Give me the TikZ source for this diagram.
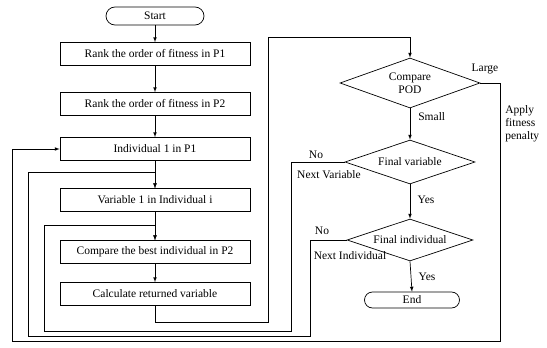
\documentclass[tikz,border=0pt]{standalone}
\usepackage{fontspec}
\setmainfont{Liberation Serif}
\usetikzlibrary{shapes.geometric,shapes.misc}

\begin{document}
\begin{tikzpicture}[x=1pt, y=-1pt, line width=0.7pt,
  stepbox/.style = {draw, minimum width=190pt, minimum height=23pt, inner sep=0pt,
                    font=\fontsize{11.5}{13}\selectfont},
  term/.style    = {draw, rounded rectangle, minimum width=98pt, minimum height=18pt,
                    inner sep=0pt, font=\fontsize{11.5}{13}\selectfont},
  test/.style    = {draw, diamond, aspect=3, inner sep=0pt, align=center,
                    font=\fontsize{11.5}{13}\selectfont},
  flw/.style     = {-latex},
  lbl/.style     = {font=\fontsize{11.5}{13}\selectfont, inner sep=1pt}
]
\useasboundingbox (0,0) rectangle (547,348);

% --- left column: steps ---
\node[term]    (start) at (155,16)  {Start};
\node[stepbox] (rank1) at (155,54)  {Rank the order of fitness in P1};
\node[stepbox] (rank2) at (155,104) {Rank the order of fitness in P2};
\node[stepbox] (ind1)  at (155,149) {Individual 1 in P1};
\node[stepbox] (var1)  at (155,200) {Variable 1 in Individual i};
\node[stepbox] (best)  at (155,252) {Compare the best individual in P2};
\node[stepbox] (calc)  at (155,294) {Calculate returned variable};
\foreach \a/\b in {start/rank1, rank1/rank2, rank2/ind1, ind1/var1, var1/best, best/calc}
  { \draw[flw] (\a.south) -- (\b.north); }

% --- right column: tests ---
\node[test, minimum width=140pt, minimum height=50pt] (pod)  at (410,83)  {Compare\\POD};
\node[test, minimum width=130pt, minimum height=44pt] (fvar) at (410,162) {Final variable};
\node[test, minimum width=126pt, minimum height=42pt] (find) at (410,240) {Final individual};
\node[term, minimum width=95pt, minimum height=16pt]  (stop) at (412,300) {End};
\draw[flw] (pod.south)  -- (fvar.north);
\draw[flw] (fvar.south) -- (find.north);
\draw[flw] (find.south) -- (stop.north);

% --- labels ---
\node[lbl] (large) at (485,69)  {Large};
\node[lbl, anchor=west] (small) at (417,117) {Small};
\node[lbl, anchor=west, align=left] (pen) at (504,124) {Apply\\fitness\\penalty};
\node[lbl] (no1)   at (316,155) {No};
\node[lbl] (nxv)   at (329,175) {Next Variable};
\node[lbl] (yes1)  at (426,200) {Yes};
\node[lbl] (no2)   at (322,231) {No};
\node[lbl] (nxi)   at (350,256) {Next Individual};
\node[lbl] (yes2)  at (427,277) {Yes};

% --- loops ---
\coordinate (cR) at (268,322); \coordinate (cT) at (268,37);
\draw[flw] (calc.south) |- (cR) -- (cT) -| (pod.north);

\coordinate (vR) at (291,331); \coordinate (vL) at (44,331); \coordinate (vM) at (155,225);
\draw[flw] (fvar.west) -| (vR) -- (vL) |- (vM) -- (best.north);

\coordinate (iR) at (310,336); \coordinate (iL) at (28,336); \coordinate (iM) at (155,172);
\draw[flw] (find.west) -| (iR) -- (iL) |- (iM) -- (var1.north);

\coordinate (pR) at (500,341); \coordinate (pL) at (12,341);
\draw[flw] (pod.east) -| (pR) -- (pL) |- (ind1.west);
\end{tikzpicture}
\end{document}
